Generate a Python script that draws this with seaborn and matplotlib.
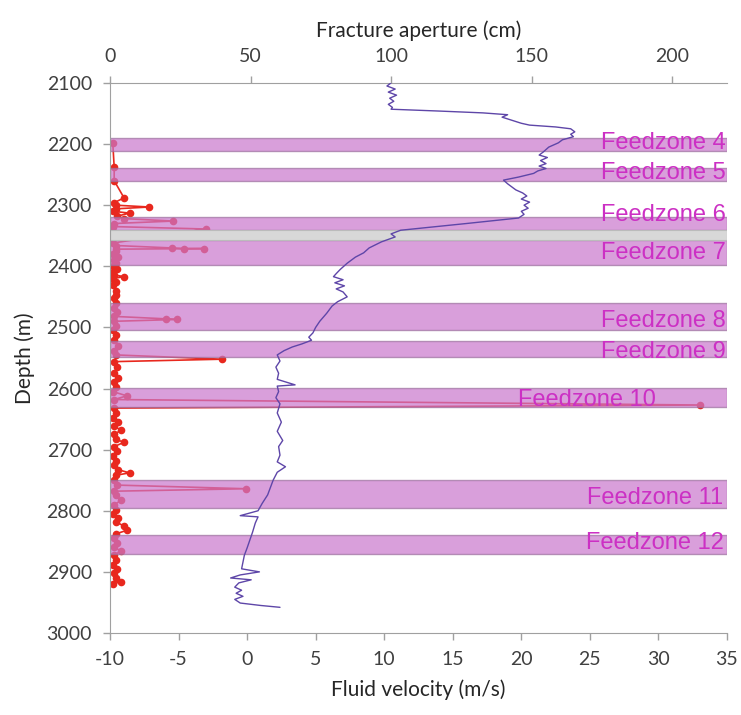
#! /usr/bin/env python
'''
Fracture aperture and fluid velocity vs. depth, with feedzones marked
'''
# imports
import matplotlib
matplotlib.use('Agg')
import matplotlib.pyplot as plt
import pandas as pd
import seaborn as sns

# settings
sns.set_style("ticks")
plt.rcParams['font.family'] = ['Lato', 'DejaVu Sans']
plt.rcParams['axes.unicode_minus'] = False

# DATA
# fluid velocity log (m/s) vs depth (m)
vel_depth = [2100,2105,2110,2115,2120,2125,2130,2135,2140,2143,2146,2149,2152,2156,2161,2166,2169,2172,2175,2180,
             2184,2188,2193,2198,2205,2213,2218,2222,2227,2232,2236,2240,2244,2248,2254,2259,2265,2270,2275,2280,
             2285,2290,2295,2300,2305,2310,2315,2321,2330,2341,2347,2352,2360,2370,2378,2385,2395,2405,2412,2417,
             2422,2427,2432,2437,2442,2450,2458,2465,2477,2490,2500,2509,2516,2521,2527,2532,2538,2545,2555,2565,
             2575,2585,2594,2596,2605,2615,2625,2640,2655,2670,2685,2695,2709,2720,2728,2737,2750,2762,2774,2788,
             2800,2808,2810,2820,2835,2848,2861,2873,2884,2895,2900,2905,2910,2913,2918,2925,2930,2935,2940,2945,
             2951,2955,2958]
velocity = [10.5,10.2,10.8,10.3,10.9,10.4,10.7,10.3,10.6,10.5,14.0,17.2,19.0,18.6,19.3,20.0,20.6,22.5,23.6,23.9,
            23.6,23.8,23.0,22.7,22.0,21.6,21.3,21.9,21.4,21.8,21.3,21.8,21.2,20.9,19.8,18.7,19.0,19.3,19.6,20.1,
            20.4,20.0,20.6,20.2,20.5,20.0,20.2,19.8,16.0,11.2,10.5,10.8,9.8,8.9,8.5,7.9,7.3,6.8,6.5,6.3,
            7.0,6.4,7.1,6.5,7.0,7.3,6.6,6.2,5.8,5.3,5.0,4.8,4.5,4.7,4.0,3.3,2.7,2.2,2.4,2.1,
            2.3,2.2,3.5,2.2,2.3,2.1,2.4,2.2,2.5,2.2,2.6,2.3,2.4,2.2,2.8,2.2,1.9,1.7,1.5,1.1,
            0.8,-0.5,0.8,0.6,0.4,0.2,0.0,-0.2,-0.3,-0.4,0.9,-0.5,-1.2,0.3,-0.6,-0.9,-0.4,-0.8,-0.3,-0.9,
            -0.5,1.0,2.4]

# fracture aperture (cm) vs depth (m)
ap_depth = [2198,2238,2260,2288,2296,2300,2303,2306,2310,2313,2318,2322,2326,2330,2335,2339,2362,2366,2370,2371,
            2371,2372,2375,2380,2385,2390,2395,2400,2405,2410,2414,2417,2420,2425,2430,2440,2447,2452,2460,2468,
            2475,2482,2486,2487,2490,2498,2505,2512,2520,2530,2538,2545,2552,2556,2565,2575,2582,2590,2598,2605,
            2612,2618,2627,2632,2640,2648,2655,2662,2668,2675,2683,2688,2695,2702,2710,2718,2725,2733,2738,2742,
            2750,2758,2764,2768,2775,2783,2790,2798,2805,2812,2818,2825,2832,2838,2845,2852,2860,2866,2872,2880,
            2888,2895,2902,2910,2916,2920]
aperture = [1.0,1.5,1.5,5.0,1.5,2.0,14.0,2.0,1.0,7.0,2.5,5.0,22.5,1.5,1.0,34.0,1.0,2.0,22.0,26.5,
            33.5,2.0,2.0,1.0,3.0,1.5,2.0,1.0,2.5,1.0,1.5,5.0,1.0,2.0,1.0,2.0,2.0,1.5,2.0,1.5,
            2.5,1.5,20.0,24.0,1.5,2.0,1.0,2.0,1.5,3.0,1.5,2.0,40.0,1.5,2.5,1.5,3.0,1.5,2.0,1.0,
            6.0,1.5,210.0,1.5,2.0,1.0,3.0,1.5,4.0,1.5,2.0,5.0,1.5,2.5,1.0,2.0,1.5,3.0,7.0,2.0,
            1.5,2.5,48.5,1.5,2.0,4.0,1.5,2.0,1.0,3.0,2.0,5.0,6.0,2.0,1.5,2.5,1.5,4.0,1.5,2.0,
            1.0,2.5,1.5,2.0,4.0,1.0]

# feedzones (depth ranges, m) and label placement
zone_names = ['Feedzone 4','Feedzone 5','Feedzone 6','Feedzone 7','Feedzone 8',
              'Feedzone 9','Feedzone 10','Feedzone 11','Feedzone 12']
zone_top = [2190,2239,2319,2357,2460,2522,2599,2750,2840]
zone_bottom = [2211,2260,2341,2398,2505,2548,2631,2796,2871]
label_depth = [2198,2247,2316,2378,2489,2540,2619,2779,2853]
label_vel = [34.9,34.9,34.9,34.9,34.9,34.9,29.8,34.7,34.8]
grey_zone = (2341,2357)

vel_df = pd.DataFrame({'depth':vel_depth,'velocity':velocity})
ap_df = pd.DataFrame({'depth':ap_depth,'aperture':aperture})

# plot
fig = plt.figure(figsize=(7.41,7.15), dpi=100)
ax = fig.add_axes([0.1484,0.1147,0.8327,0.7693])
ax2 = ax.twiny()

# aperture series + feedzone bands on the twin axis (drawn underneath the velocity line)
sns.lineplot(x='aperture',y='depth',data=ap_df,sort=False,estimator=None,ax=ax2,
             color='#E8281E',lw=1.2,marker='o',markersize=5.5,markeredgewidth=0,zorder=1)
for top,bot in zip(zone_top,zone_bottom):
    ax2.axhspan(top,bot,facecolor='#C977CC',edgecolor='#9C6E9E',lw=1.0,alpha=0.7,zorder=2)
ax2.axhspan(grey_zone[0],grey_zone[1],facecolor='#D8D8D8',edgecolor='#BBBBBB',lw=0.8,zorder=2)

# fluid velocity
sns.lineplot(x='velocity',y='depth',data=vel_df,sort=False,estimator=None,ax=ax,
             color='#5E46A8',lw=1.0,zorder=3)
ax.set_zorder(ax2.get_zorder()+1)
ax.patch.set_visible(False)

for name,d,v in zip(zone_names,label_depth,label_vel):
    ax.text(v,d,name,ha='right',va='center',fontsize=17,color='#CC30C4',zorder=4,
            family=['Liberation Sans','DejaVu Sans'])

# axes
ax.set_ylim(3000,2100)
ax.set_xlim(-10,35)
ax2.set_xlim(0,219.5)
ax.set_xticks(range(-10,40,5))
ax.set_yticks(range(2100,3100,100))
ax2.set_xticks([0,50,100,150,200])

ax.set_xlabel('Fluid velocity (m/s)',fontsize=15,color='#262626',labelpad=8)
ax.set_ylabel('Depth (m)',fontsize=15,color='#262626',labelpad=8)
ax2.set_xlabel('Fracture aperture (cm)',fontsize=15,color='#262626',labelpad=8)
ax2.set_ylabel('')

for a in (ax,ax2):
    a.tick_params(labelsize=14,colors='#404040',length=5,width=1,pad=8)
    a.tick_params(color='#A0A0A0')
    for s in a.spines.values():
        s.set_color('#A0A0A0')
    a.spines['right'].set_visible(False)
ax.spines['top'].set_visible(False)
ax2.spines['bottom'].set_visible(False)
ax2.spines['left'].set_visible(False)

fig.savefig('out.png', dpi=100)
plt.close()
